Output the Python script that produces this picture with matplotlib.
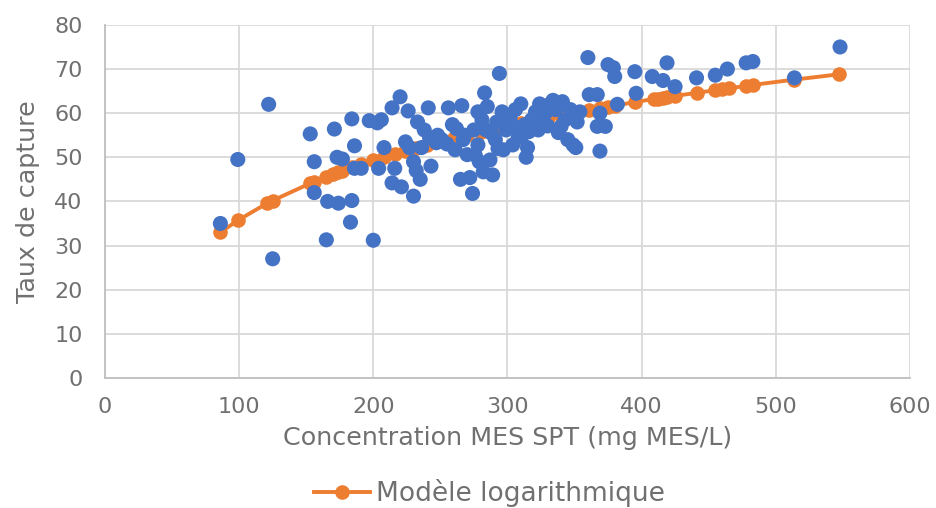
import matplotlib
matplotlib.use("Agg")
import matplotlib.pyplot as plt
from matplotlib.lines import Line2D

# Observed data (blue scatter)
obs_x = [86, 99, 122, 125, 153, 156, 156, 165, 166, 171, 174, 173, 177, 183, 184, 184,
         186, 186, 191, 197, 200, 203, 204, 206, 208, 214, 214, 216, 220, 221, 224, 226,
         227, 230, 230, 232, 233, 235, 236, 238, 241, 242, 243, 247, 251, 256, 259, 261,
         265, 266, 267, 270, 272, 274, 275, 278, 278, 279, 282, 283, 284, 285, 287, 289,
         291, 292, 294, 296, 297, 299, 302, 304, 306, 308, 310, 311, 313, 314, 315, 318,
         321, 323, 324, 326, 329, 330, 332, 334, 336, 338, 341, 343, 345, 347, 349, 351,
         352, 354, 360, 361, 367, 369, 367, 369, 373, 375, 379, 380, 382, 395, 396, 408,
         416, 419, 425, 441, 455, 464, 478, 483, 514, 548,
         262, 268, 276, 288, 300, 316, 327, 340, 248, 255, 281, 293, 305, 319]
obs_y = [35.0, 49.5, 62.0, 27.0, 55.3, 49.0, 42.0, 31.3, 40.0, 56.4, 39.6, 50.0, 49.6, 35.3, 58.7, 40.2,
         52.6, 47.5, 47.5, 58.3, 31.2, 57.8, 47.5, 58.5, 52.2, 44.2, 61.2, 47.5, 63.7, 43.3, 53.5, 60.5,
         52.2, 41.2, 49.0, 47.0, 58.0, 45.0, 52.2, 56.2, 61.2, 54.4, 48.0, 53.3, 54.0, 61.2, 57.4, 51.7,
         45.0, 61.7, 54.0, 50.6, 45.4, 41.8, 56.2, 60.3, 52.8, 49.0, 46.7, 64.6, 56.2, 61.5, 49.4, 46.0,
         54.0, 58.0, 69.0, 60.3, 51.7, 56.2, 59.0, 52.8, 60.8, 54.4, 62.1, 55.0, 57.4, 50.0, 52.2, 58.5,
         60.3, 56.2, 62.1, 58.5, 60.3, 57.1, 62.1, 62.9, 60.8, 55.6, 62.6, 58.5, 54.0, 60.8, 52.8, 52.2,
         58.0, 60.3, 72.6, 64.2, 64.2, 60.0, 57.0, 51.4, 57.0, 71.0, 70.3, 68.3, 62.0, 69.4, 64.5, 68.3,
         67.4, 71.4, 66.0, 68.0, 68.6, 70.0, 71.4, 71.7, 68.0, 75.0,
         56.5, 55.0, 50.5, 55.5, 57.5, 55.8, 59.5, 57.0, 55.0, 53.0, 58.5, 52.0, 57.0, 56.5]

# Logarithmic model (orange line with markers)
model_x = [86, 99, 121, 125, 153, 156, 165, 170, 174, 177, 184, 191, 200, 208, 216, 224,
           232, 240, 250, 260, 270, 280, 290, 300, 310, 320, 330, 340, 350, 361, 369, 375,
           380, 395, 409, 412, 416, 419, 425, 441, 455, 460, 465, 478, 483, 514, 547]
model_y = [33.0, 35.7, 39.6, 40.2, 44.1, 44.5, 45.6, 46.2, 46.6, 47.0, 47.7, 48.4, 49.3, 50.1, 50.8, 51.5,
           52.2, 52.8, 53.6, 54.4, 55.1, 55.8, 56.5, 57.2, 57.8, 58.4, 59.0, 59.6, 60.2, 60.8, 61.2, 61.5,
           61.7, 62.5, 63.2, 63.3, 63.5, 63.6, 63.9, 64.6, 65.2, 65.4, 65.6, 66.2, 66.4, 67.6, 68.8]

x_ticks = [0, 100, 200, 300, 400, 500, 600]
y_ticks = [0, 10, 20, 30, 40, 50, 60, 70, 80]

BLUE = "#4472C4"
ORANGE = "#ED7D31"
TEXT = "#707070"
GRID = "#D9D9D9"

plt.rcParams["font.family"] = ["DejaVu Sans"]

fig = plt.figure(figsize=(9.36, 5.08), dpi=100)
ax = fig.add_axes([0.1122, 0.256, 0.8598, 0.695])

ax.plot(model_x, model_y, color=ORANGE, lw=2.8, marker="o", ms=10.5,
        markeredgewidth=0, zorder=3)
ax.scatter(obs_x, obs_y, s=118, color=BLUE, edgecolors="none", zorder=4)

ax.set_xlim(0, 600)
ax.set_ylim(0, 80)
ax.set_xticks(x_ticks)
ax.set_yticks(y_ticks)
ax.grid(True, color=GRID, lw=1.3, zorder=0)
ax.set_axisbelow(True)
for s in ["top", "right"]:
    ax.spines[s].set_visible(False)
for s in ["left", "bottom"]:
    ax.spines[s].set_color("#BFBFBF")
    ax.spines[s].set_linewidth(1.3)
ax.tick_params(axis="x", length=0, labelsize=16, labelcolor=TEXT, pad=14)
ax.tick_params(axis="y", length=0, labelsize=16, labelcolor=TEXT, pad=16)

ax.set_xlabel("Concentration MES SPT (mg MES/L)", fontsize=18.3, color=TEXT, labelpad=6)
ax.set_ylabel("Taux de capture", fontsize=18.3, color=TEXT, labelpad=10)

handle = Line2D([], [], color=ORANGE, lw=2.8, marker="o", ms=10.5, markeredgewidth=0)
fig.legend([handle], ["Modèle logarithmique"], loc="center", bbox_to_anchor=(0.523, 0.03),
           frameon=False, fontsize=19, labelcolor=TEXT, handlelength=2.1, handletextpad=0.25)

fig.savefig("out.png", dpi=100)
